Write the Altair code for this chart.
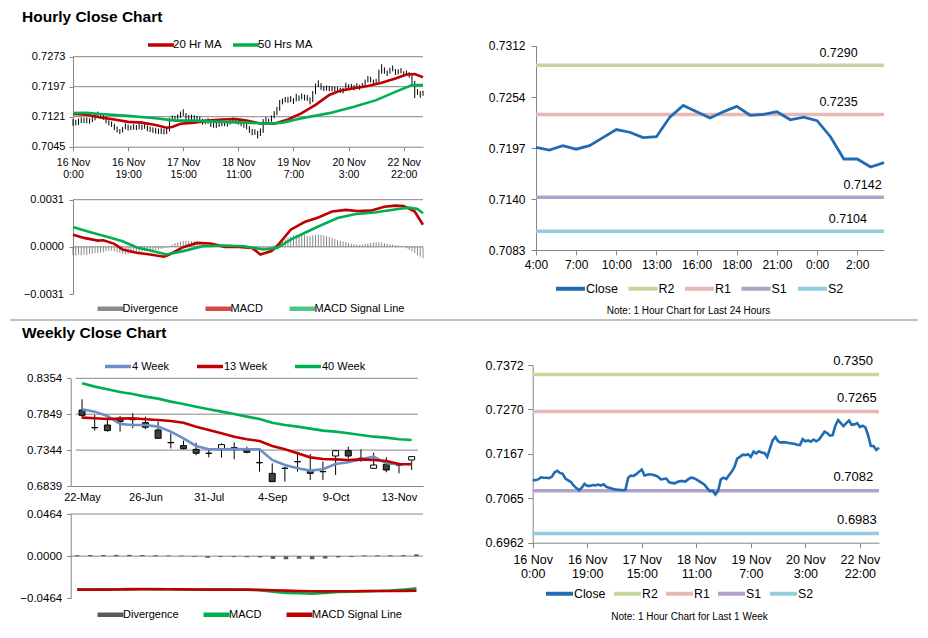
import json
import altair as alt
import pandas as pd

FONT = "Liberation Sans"
W, H = 912, 622
AXIS_GRAY = "#868686"
BLACK = "#000000"
RED = "#C00000"
GREEN = "#00B050"
BLUE_MA = "#6A8FC8"
CLOSE_C = "#1F6CB4"
R2C, R1C, S1C, S2C = "#C3D69B", "#E6B9B8", "#B3A2C7", "#93CDDD"
DIV_C = "#595959"

# ---------------- hourly data (128 hourly bars) ----------------
hourly_close = [
    0.7107, 0.7106, 0.7108, 0.7113, 0.7112, 0.7112, 0.7111, 0.7114, 0.7124, 0.7128,
    0.7123, 0.7121, 0.7110, 0.7106, 0.7102, 0.7094, 0.7088, 0.7083, 0.7089, 0.7098,
    0.7093, 0.7093, 0.7095, 0.7094, 0.7096, 0.7094, 0.7097, 0.7091, 0.7089, 0.7087,
    0.7085, 0.7084, 0.7084, 0.7083, 0.7084, 0.7112, 0.7117, 0.7116, 0.7120, 0.7126,
    0.7131, 0.7117, 0.7119, 0.7120, 0.7119, 0.7117, 0.7114, 0.7108, 0.7109, 0.7110,
    0.7102, 0.7100, 0.7099, 0.7102, 0.7104, 0.7104, 0.7103, 0.7108, 0.7112, 0.7111,
    0.7108, 0.7104, 0.7100, 0.7096, 0.7088, 0.7081, 0.7082, 0.7073, 0.7082, 0.7108,
    0.7112, 0.7109, 0.7118, 0.7126, 0.7137, 0.7156, 0.7160, 0.7165, 0.7164, 0.7166,
    0.7160, 0.7172, 0.7168, 0.7173, 0.7170, 0.7169, 0.7160, 0.7179, 0.7198, 0.7206,
    0.7196, 0.7193, 0.7194, 0.7193, 0.7192, 0.7191, 0.7190, 0.7188, 0.7187, 0.7201,
    0.7196, 0.7198, 0.7195, 0.7200, 0.7196, 0.7200, 0.7209, 0.7218, 0.7215, 0.7209,
    0.7210, 0.7232, 0.7245, 0.7238, 0.7231, 0.7238, 0.7244, 0.7234, 0.7235, 0.7238,
    0.7229, 0.7232, 0.7228, 0.7210, 0.7185, 0.7185, 0.7176, 0.7181]
hourly_high = [
    0.7115, 0.7113, 0.7116, 0.7119, 0.7118, 0.7119, 0.7117, 0.7121, 0.7130, 0.7134,
    0.7130, 0.7127, 0.7122, 0.7112, 0.7109, 0.7103, 0.7096, 0.7090, 0.7095, 0.7104,
    0.7101, 0.7099, 0.7102, 0.7100, 0.7103, 0.7101, 0.7103, 0.7099, 0.7096, 0.7094,
    0.7093, 0.7091, 0.7092, 0.7090, 0.7093, 0.7118, 0.7124, 0.7123, 0.7127, 0.7134,
    0.7140, 0.7130, 0.7125, 0.7126, 0.7125, 0.7123, 0.7121, 0.7116, 0.7115, 0.7117,
    0.7110, 0.7107, 0.7106, 0.7108, 0.7111, 0.7110, 0.7110, 0.7114, 0.7119, 0.7117,
    0.7115, 0.7111, 0.7107, 0.7103, 0.7097, 0.7090, 0.7089, 0.7085, 0.7091, 0.7115,
    0.7120, 0.7116, 0.7124, 0.7135, 0.7146, 0.7163, 0.7167, 0.7171, 0.7171, 0.7173,
    0.7168, 0.7179, 0.7175, 0.7180, 0.7177, 0.7176, 0.7170, 0.7186, 0.7205, 0.7213,
    0.7206, 0.7199, 0.7200, 0.7199, 0.7198, 0.7197, 0.7196, 0.7194, 0.7194, 0.7207,
    0.7203, 0.7204, 0.7201, 0.7206, 0.7202, 0.7206, 0.7215, 0.7224, 0.7222, 0.7215,
    0.7217, 0.7240, 0.7254, 0.7246, 0.7238, 0.7245, 0.7251, 0.7242, 0.7241, 0.7244,
    0.7236, 0.7238, 0.7234, 0.7230, 0.7212, 0.7191, 0.7186, 0.7187]
hourly_low = [
    0.7098, 0.7099, 0.7100, 0.7105, 0.7105, 0.7104, 0.7103, 0.7107, 0.7112, 0.7120,
    0.7116, 0.7113, 0.7104, 0.7099, 0.7095, 0.7087, 0.7081, 0.7077, 0.7081, 0.7089,
    0.7086, 0.7087, 0.7088, 0.7087, 0.7089, 0.7087, 0.7090, 0.7084, 0.7082, 0.7080,
    0.7078, 0.7077, 0.7077, 0.7076, 0.7077, 0.7084, 0.7110, 0.7109, 0.7113, 0.7118,
    0.7123, 0.7111, 0.7112, 0.7113, 0.7112, 0.7110, 0.7107, 0.7101, 0.7102, 0.7103,
    0.7095, 0.7093, 0.7092, 0.7095, 0.7097, 0.7097, 0.7096, 0.7101, 0.7105, 0.7104,
    0.7101, 0.7097, 0.7093, 0.7089, 0.7080, 0.7074, 0.7075, 0.7066, 0.7072, 0.7080,
    0.7104, 0.7102, 0.7108, 0.7117, 0.7125, 0.7136, 0.7152, 0.7157, 0.7156, 0.7158,
    0.7153, 0.7160, 0.7161, 0.7165, 0.7162, 0.7161, 0.7152, 0.7158, 0.7178, 0.7196,
    0.7189, 0.7186, 0.7187, 0.7186, 0.7185, 0.7184, 0.7183, 0.7181, 0.7180, 0.7186,
    0.7189, 0.7191, 0.7188, 0.7193, 0.7189, 0.7193, 0.7199, 0.7208, 0.7208, 0.7202,
    0.7203, 0.7209, 0.7230, 0.7230, 0.7224, 0.7230, 0.7236, 0.7227, 0.7228, 0.7231,
    0.7222, 0.7224, 0.7220, 0.7203, 0.7168, 0.7176, 0.7169, 0.7174]

ma20_idx = [0, 5, 10, 15, 20, 25, 30, 34, 36, 39, 44, 49, 54, 59, 63, 68, 73, 78, 83,
            88, 93, 97, 102, 107, 112, 117, 121, 124, 127]
ma20 = [0.7128, 0.7126, 0.7119, 0.7114, 0.7108, 0.7106, 0.7100, 0.7093, 0.7095, 0.7103,
        0.7106, 0.7111, 0.7114, 0.7115, 0.7111, 0.7104, 0.7103, 0.7114, 0.7130, 0.7151,
        0.7176, 0.7187, 0.7193, 0.7199, 0.7207, 0.7218, 0.7228, 0.7229, 0.7221]
ma50_idx = [0, 5, 10, 20, 30, 37, 44, 54, 63, 71, 76, 83, 93, 102, 110, 117, 123, 127]
ma50 = [0.7130, 0.7131, 0.7128, 0.7123, 0.7117, 0.7111, 0.7111, 0.7108, 0.7106, 0.7103,
        0.7106, 0.7117, 0.7130, 0.7146, 0.7163, 0.7184, 0.7201, 0.7201]

macd_h_idx = [0, 4, 9, 11, 15, 18, 23, 28, 33, 35, 40, 45, 50, 55, 60, 65, 68, 72, 74, 79,
              84, 89, 94, 99, 103, 108, 113, 117, 120, 124, 127]
macd_h = [0.0008, 0.00059, 0.00041, 0.00043, 0.0002, -0.00017, -0.00039, -0.0005, -0.00065,
          -0.0005, -0.00002, 0.00026, 0.00022, 0.0, 0.0, -0.00007, -0.0005, -0.00028, 0.00004,
          0.00113, 0.00163, 0.00193, 0.00232, 0.00243, 0.00236, 0.00238, 0.00264, 0.00271,
          0.00269, 0.00232, 0.00145]
signal_h_idx = [0, 6, 13, 18, 23, 28, 34, 40, 47, 55, 62, 69, 74, 79, 84, 89, 96, 103, 110,
                118, 122, 125, 127]
signal_h = [0.0013, 0.00098, 0.00063, 0.00037, -0.00002, -0.00024, -0.0005, -0.00028, 0.00004,
            0.00009, 0.00004, -0.00017, -0.00007, 0.00048, 0.00091, 0.00134, 0.00189, 0.00217,
            0.00228, 0.00249, 0.00258, 0.00249, 0.00221]
divergence_h = [
    -0.00055, -0.00058, -0.00052, -0.00056, -0.0005, -0.00054, -0.00048, -0.00045, -0.0004, -0.00042,
    -0.00038, -0.00036, -0.0003, -0.00028, -0.00025, -0.0003, -0.00035, -0.0004, -0.00045, -0.0005,
    -0.00048, -0.00044, -0.0004, -0.00038, -0.00035, -0.0003, -0.00028, -0.00025, -0.0002, -0.00022,
    -0.0002, -0.00018, -0.00015, -0.0001, -0.00005, 0.00005, 0.00015, 0.00025, 0.0003, 0.00035,
    0.00038, 0.0004, 0.0004, 0.00038, 0.00036, 0.00035, 0.0003, 0.00028, 0.00025, 0.0002,
    0.00015, 0.0001, 0.00005, 0.00002, 0.0, -0.00002, -0.00003, -0.00002, 0.0, -0.00002,
    -0.00005, -0.00008, -0.0001, -0.00012, -0.00015, -0.00018, -0.0002, -0.00022, -0.0002, -0.00015,
    -0.0001, -0.00005, 0.0, 0.0001, 0.0002, 0.0003, 0.0004, 0.0005, 0.0006, 0.00068,
    0.00075, 0.0008, 0.00082, 0.0008, 0.00078, 0.00072, 0.0007, 0.00075, 0.0008, 0.00082,
    0.0008, 0.00075, 0.0007, 0.00065, 0.0006, 0.00052, 0.00045, 0.0004, 0.00035, 0.0003,
    0.00025, 0.0002, 0.00018, 0.00015, 0.00012, 0.00015, 0.0002, 0.00022, 0.00025, 0.00028,
    0.0003, 0.0003, 0.00028, 0.00025, 0.0002, 0.00018, 0.00015, 0.0001, 0.00008, 0.00005,
    0.0, -0.0001, -0.0002, -0.0003, -0.0004, -0.00055, -0.00065, -0.00075]

hourly_tick_idx = [0, 20, 40, 60, 80, 100, 120]
hourly_tick_labels = ["16 Nov|0:00", "16 Nov|19:00", "17 Nov|15:00", "18 Nov|11:00",
                      "19 Nov|7:00", "20 Nov|3:00", "22 Nov|22:00"]
day_tick_idx = [0, 3, 6, 9, 12, 15, 18, 21, 24]
day_tick_labels = ["4:00", "7:00", "10:00", "13:00", "16:00", "18:00", "21:00", "0:00", "2:00"]

series_names = ["Close", "R2", "R1", "S1", "S2"]
level_names = ["R2", "R1", "S1", "S2"]
day_levels = [0.7290, 0.7235, 0.7142, 0.7104]
day_label_idx = [22.6, 22.6, 24.4, 23.3]
week_levels = [0.7350, 0.7265, 0.7082, 0.6983]
week_label_idx = [117.5, 118.9, 117.6, 118.9]

# ---------------- weekly data (27 weeks, 22-May .. 20-Nov) ----------------
week_tick_idx = [0, 5, 10, 15, 20, 25]
week_tick_labels = ["22-May", "26-Jun", "31-Jul", "4-Sep", "9-Oct", "13-Nov"]
w_open = [0.7908, 0.7662, 0.7697, 0.7791, 0.7786, 0.7730, 0.7627, 0.7451, 0.7407, 0.7355,
          0.7300, 0.7360, 0.7379, 0.7346, 0.7168, 0.7017, 0.7089, 0.7182, 0.7041, 0.7042,
          0.7261, 0.7336, 0.7229, 0.7088, 0.7144, 0.7135, 0.7205]
w_close = [0.7833, 0.7658, 0.7618, 0.7744, 0.7772, 0.7665, 0.7510, 0.7447, 0.7364, 0.7299,
           0.7298, 0.7421, 0.7377, 0.7313, 0.7166, 0.6900, 0.7087, 0.7180, 0.7017, 0.7040,
           0.7336, 0.7261, 0.7227, 0.7134, 0.7064, 0.7133, 0.7252]
w_high = [0.8059, 0.7838, 0.7838, 0.7824, 0.7862, 0.7815, 0.7744, 0.7580, 0.7477, 0.7449,
          0.7369, 0.7440, 0.7453, 0.7392, 0.7369, 0.7158, 0.7111, 0.7322, 0.7289, 0.7181,
          0.7346, 0.7392, 0.7355, 0.7308, 0.7242, 0.7167, 0.7261]
w_low = [0.7791, 0.7618, 0.7604, 0.7604, 0.7651, 0.7636, 0.7505, 0.7369, 0.7355, 0.7271,
         0.7242, 0.7238, 0.7214, 0.7299, 0.7041, 0.6900, 0.6900, 0.7041, 0.6924, 0.6924,
         0.6994, 0.7228, 0.7181, 0.7088, 0.7032, 0.7017, 0.7064]
ma4w = [0.7918, 0.7885, 0.7824, 0.7711, 0.7697, 0.7697, 0.7674, 0.7604, 0.7510, 0.7402,
        0.7355, 0.7355, 0.7360, 0.7355, 0.7355, 0.7205, 0.7135, 0.7088, 0.7055, 0.7074,
        0.7149, 0.7172, 0.7214, 0.7252, 0.7158, 0.7144, 0.7149]
ma13w = [0.7801, 0.7791, 0.7782, 0.7787, 0.7791, 0.7777, 0.7768, 0.7754, 0.7730, 0.7674,
         0.7627, 0.7580, 0.7533, 0.7496, 0.7472, 0.7402, 0.7355, 0.7299, 0.7242, 0.7219,
         0.7214, 0.7205, 0.7214, 0.7205, 0.7191, 0.7149, 0.7144]
ma40w = [0.8284, 0.8237, 0.8199, 0.8162, 0.8134, 0.8096, 0.8068, 0.8026, 0.7993, 0.7955,
         0.7918, 0.7885, 0.7852, 0.7815, 0.7782, 0.7730, 0.7697, 0.7674, 0.7646, 0.7618,
         0.7604, 0.7580, 0.7557, 0.7533, 0.7519, 0.7496, 0.7486]
macd_w = [-0.0369, -0.0368, -0.0366, -0.0364, -0.0362, -0.0362, -0.0363, -0.0365, -0.0366,
          -0.0368, -0.0369, -0.0369, -0.0369, -0.0370, -0.0376, -0.0391, -0.0405, -0.0409,
          -0.0413, -0.0406, -0.0395, -0.0391, -0.0386, -0.0384, -0.0380, -0.0369, -0.0354]
signal_w = [-0.0369, -0.0369, -0.0368, -0.0367, -0.0366, -0.0365, -0.0365, -0.0365, -0.0366,
            -0.0367, -0.0368, -0.0368, -0.0369, -0.0369, -0.0371, -0.0376, -0.0380, -0.0384,
            -0.0387, -0.0388, -0.0387, -0.0386, -0.0385, -0.0384, -0.0384, -0.0382, -0.0380]
divergence_w = [0.0010, 0.0012, 0.0013, 0.0014, 0.0014, 0.0012, 0.0010, 0.0008, 0.0006, -0.0008,
                -0.0018, -0.0010, -0.0010, -0.0012, -0.0014, -0.0030, -0.0034, -0.0028, -0.0034,
                -0.0026, -0.0014, -0.0010, 0.0008, 0.0009, 0.0010, 0.0011, 0.0020]


# ---------------- helpers ----------------
def lbl_expr(labels, step):
    return "split(" + json.dumps(labels) + "[round(datum.value / " + str(step) + ")], '|')"


def yaxis(offset, values, size, tick=4, pad=4):
    return alt.Axis(orient="left", offset=offset, values=values, format=".4f", title=None,
                    grid=False, domainColor=AXIS_GRAY, tickColor=AXIS_GRAY, tickSize=tick,
                    labelPadding=pad, labelFont=FONT, labelFontSize=size, labelColor=BLACK)


def xaxis(offset, values, labels, step, size, tick=4, pad=4, line_h=12, **extra):
    opts = dict(orient="bottom", offset=offset, values=values, labelExpr=lbl_expr(labels, step),
                grid=False, domainColor=AXIS_GRAY, tickColor=AXIS_GRAY, labelPadding=pad,
                labelFont=FONT, labelFontSize=size, labelColor=BLACK, labelFlush=False,
                labelOverlap=False, labelLineHeight=line_h)
    if tick > 0:
        opts["tickSize"] = tick
    else:
        opts["ticks"] = False
    if "title" not in extra:
        opts["title"] = None
    opts.update(extra)
    return alt.Axis(**opts)


def legend(x, y, size, font, pad, offset=2, stroke_w=3.5):
    # a negative label offset is passed as an expression (the schema only takes >= 0 numbers)
    off = offset if offset >= 0 else {"expr": str(offset)}
    return alt.Legend(orient="none", legendX=x, legendY=y, direction="horizontal", title=None,
                      symbolType="stroke", symbolSize=size * size, symbolStrokeWidth=stroke_w,
                      labelFont=FONT, labelFontSize=font, labelColor=BLACK,
                      columnPadding=pad, labelOffset=off, padding=0)


def lin(domain, rng):
    return alt.Scale(domain=domain, range=rng, nice=False, zero=False)


def long_df(parts):
    return pd.concat([pd.DataFrame({"i": idx, "v": vals, "s": name}) for idx, vals, name in parts],
                     ignore_index=True)


n_h = len(hourly_close)
n_w = len(w_close)
hourly_i = list(range(n_h))
week_i = list(range(n_w))

# ================= top-left: hourly price =================
sx_tl = lin([0, n_h - 1], [65, 415])
sy_tl = lin([0.7045, 0.7273], [138.7, 48.7])
ax_tl_x = xaxis(138.7 - H, hourly_tick_idx, hourly_tick_labels, 20, 10.5, 4, 6.8, 12)
ax_tl_y = yaxis(-65, [0.7045, 0.7121, 0.7197, 0.7273], 11, 4, 4)
tl_grid = alt.Chart(pd.DataFrame({"v": [0.7121, 0.7197, 0.7273], "a": 0, "b": n_h - 1})).mark_rule(
    color=AXIS_GRAY, strokeWidth=1).encode(
    x=alt.X("a:Q", scale=sx_tl, axis=ax_tl_x), x2="b",
    y=alt.Y("v:Q", scale=sy_tl, axis=ax_tl_y))
hourly_df = pd.DataFrame({"i": hourly_i, "c": hourly_close, "h": hourly_high, "l": hourly_low})
tl_bars = alt.Chart(hourly_df).mark_rule(color=BLACK, strokeWidth=1).encode(
    x=alt.X("i:Q", scale=sx_tl, axis=ax_tl_x), y=alt.Y("l:Q", scale=sy_tl, axis=ax_tl_y), y2="h")
tl_ma = alt.Chart(long_df([(ma20_idx, ma20, "20 Hr MA"), (ma50_idx, ma50, "50 Hrs MA")])).mark_line(
    strokeWidth=2.6).encode(
    x=alt.X("i:Q", scale=sx_tl, axis=ax_tl_x), y=alt.Y("v:Q", scale=sy_tl, axis=ax_tl_y),
    color=alt.Color("s:N", scale=alt.Scale(domain=["20 Hr MA", "50 Hrs MA"], range=[RED, GREEN]),
                    legend=legend(138, 22, 26, 11.5, 4, -3, 3.5)))
tl = alt.layer(tl_grid, tl_bars, tl_ma)

# ================= top-left: hourly MACD =================
MACD_DOM = ["Divergence", "MACD", "MACD Signal Line"]
sy_tm = lin([-0.0031, 0.0031], [286, 191.7])
ax_tm_y = yaxis(-65, [-0.0031, 0.0, 0.0031], 11, 4, 5.5)
tm_color = alt.Color("s:N", scale=alt.Scale(domain=MACD_DOM, range=[DIV_C, RED, GREEN]),
                     legend=legend(87, 285, 26, 11, 17, -3.5, 4.5))
tm_grid = alt.Chart(pd.DataFrame({"v": [0.0031, 0.0], "a": 0, "b": n_h - 1})).mark_rule(
    color=AXIS_GRAY, strokeWidth=1).encode(
    x=alt.X("a:Q", scale=sx_tl, axis=None), x2="b",
    y=alt.Y("v:Q", scale=sy_tm, axis=ax_tm_y))
tm_div = alt.Chart(pd.DataFrame({"i": hourly_i, "v": divergence_h, "z": 0.0, "s": "Divergence"})).mark_rule(
    strokeWidth=1, opacity=0.7).encode(
    x=alt.X("i:Q", scale=sx_tl, axis=None), y=alt.Y("v:Q", scale=sy_tm, axis=ax_tm_y), y2="z",
    color=tm_color)
tm_lines = alt.Chart(long_df([(macd_h_idx, macd_h, "MACD"), (signal_h_idx, signal_h, "MACD Signal Line")])).mark_line(
    strokeWidth=2.6).encode(
    x=alt.X("i:Q", scale=sx_tl, axis=None), y=alt.Y("v:Q", scale=sy_tm, axis=ax_tm_y),
    color=tm_color)
tm = alt.layer(tm_grid, tm_div, tm_lines)

# ================= top-right: last 24 hours =================
day_close = hourly_close[n_h - 27:]
sx_tr = lin([0, len(day_close) - 1], [528, 876])
sy_tr = lin([0.7083, 0.7312], [242, 37.7])
ax_tr_x = xaxis(242 - H, day_tick_idx, day_tick_labels, 3, 12, 5, 4, 14,
                title="Note: 1 Hour Chart for Last 24 Hours", titleX=680, titleY=60,
                titleFont=FONT, titleFontSize=10, titleFontWeight="normal",
                titleColor=BLACK, titleAlign="center", titleBaseline="middle")
ax_tr_y = yaxis(-528, [0.7083, 0.7140, 0.7197, 0.7254, 0.7312], 12, 5, 6)
tr_color = alt.Color("s:N", scale=alt.Scale(domain=series_names, range=[CLOSE_C, R2C, R1C, S1C, S2C]),
                     legend=legend(546, 264, 29, 12.5, 2.5, -1, 4))
tr_lvl_df = pd.DataFrame({"v": day_levels, "s": level_names, "a": 0, "b": len(day_close) - 1,
                          "lx": day_label_idx, "t": [f"{v:.4f}" for v in day_levels]})
tr_lvl = alt.Chart(tr_lvl_df).mark_rule(strokeWidth=3.5).encode(
    x=alt.X("a:Q", scale=sx_tr, axis=ax_tr_x), x2="b",
    y=alt.Y("v:Q", scale=sy_tr, axis=ax_tr_y), color=tr_color)
tr_line = alt.Chart(pd.DataFrame({"i": list(range(len(day_close))), "v": day_close, "s": "Close"})).mark_line(
    strokeWidth=2.8).encode(
    x=alt.X("i:Q", scale=sx_tr, axis=ax_tr_x), y=alt.Y("v:Q", scale=sy_tr, axis=ax_tr_y), color=tr_color)
tr_text = alt.Chart(tr_lvl_df).mark_text(font=FONT, fontSize=12.5, color=BLACK, dy=-12,
                                         baseline="middle").encode(
    x=alt.X("lx:Q", scale=sx_tr, axis=ax_tr_x), y=alt.Y("v:Q", scale=sy_tr, axis=ax_tr_y), text="t:N")
tr = alt.layer(tr_lvl, tr_line, tr_text)

# ================= bottom-left: weekly price =================
sx_w = lin([-0.5, n_w - 0.5], [62.7, 415])
sy_w = lin([0.6839, 0.8354], [478, 370.3])
ax_w_x = xaxis(478 - H, week_tick_idx, week_tick_labels, 5, 11, 0, 5.5, 12)
ax_w_y = yaxis(-62.7, [0.6839, 0.7344, 0.7849, 0.8354], 11.5, 4, 5)
w_grid = alt.Chart(pd.DataFrame({"v": [0.7344, 0.7849, 0.8354], "a": -0.5, "b": n_w - 0.5})).mark_rule(
    color=AXIS_GRAY, strokeWidth=1).encode(
    x=alt.X("a:Q", scale=sx_w, axis=ax_w_x), x2="b",
    y=alt.Y("v:Q", scale=sy_w, axis=ax_w_y))
week_df = pd.DataFrame({"i": week_i, "o": w_open, "h": w_high, "l": w_low, "c": w_close})
w_wick = alt.Chart(week_df).mark_rule(color=BLACK, strokeWidth=1).encode(
    x=alt.X("i:Q", scale=sx_w, axis=ax_w_x), y=alt.Y("l:Q", scale=sy_w, axis=ax_w_y), y2="h")
w_body = alt.Chart(week_df).mark_bar(size=6, stroke=BLACK, strokeWidth=1).encode(
    x=alt.X("i:Q", scale=sx_w, axis=ax_w_x), y=alt.Y("o:Q", scale=sy_w, axis=ax_w_y), y2="c",
    fill=alt.condition("datum.c >= datum.o", alt.value("#FFFFFF"), alt.value("#404040")))
w_ma = alt.Chart(long_df([(week_i, ma4w, "4 Week"), (week_i, ma13w, "13 Week"), (week_i, ma40w, "40 Week")])).mark_line(
    strokeWidth=2.6).encode(
    x=alt.X("i:Q", scale=sx_w, axis=ax_w_x), y=alt.Y("v:Q", scale=sy_w, axis=ax_w_y),
    color=alt.Color("s:N", scale=alt.Scale(domain=["4 Week", "13 Week", "40 Week"], range=[BLUE_MA, RED, GREEN]),
                    legend=legend(95, 343.5, 26, 11, 20, -1, 3.5)))
wk = alt.layer(w_grid, w_wick, w_body, w_ma)

# ================= bottom-left: weekly MACD =================
sy_wm = lin([-0.0464, 0.0464], [590.3, 506])
ax_wm_y = yaxis(-62.7, [-0.0464, 0.0, 0.0464], 11.5, 4, 5)
wm_color = alt.Color("s:N", scale=alt.Scale(domain=MACD_DOM, range=[DIV_C, GREEN, RED]),
                     legend=legend(87, 591, 26, 11, 15, -3, 4.5))
wm_grid = alt.Chart(pd.DataFrame({"v": [0.0464, 0.0], "a": -0.5, "b": n_w - 0.5})).mark_rule(
    color=AXIS_GRAY, strokeWidth=1).encode(
    x=alt.X("a:Q", scale=sx_w, axis=None), x2="b",
    y=alt.Y("v:Q", scale=sy_wm, axis=ax_wm_y))
wm_div = alt.Chart(pd.DataFrame({"i": week_i, "v": divergence_w, "z": 0.0, "s": "Divergence"})).mark_rule(
    strokeWidth=4.5).encode(
    x=alt.X("i:Q", scale=sx_w, axis=None), y=alt.Y("v:Q", scale=sy_wm, axis=ax_wm_y), y2="z",
    color=wm_color)
wm_lines = alt.Chart(long_df([(week_i, macd_w, "MACD"), (week_i, signal_w, "MACD Signal Line")])).mark_line(
    strokeWidth=2.6).encode(
    x=alt.X("i:Q", scale=sx_w, axis=None), y=alt.Y("v:Q", scale=sy_wm, axis=ax_wm_y),
    color=wm_color)
wm = alt.layer(wm_grid, wm_div, wm_lines)

# ================= bottom-right: last week hourly close =================
sx_br = lin([0, n_h - 1], [524.7, 871])
sy_br = lin([0.6962, 0.7372], [534.7, 357])
ax_br_x = xaxis(534.7 - H, hourly_tick_idx, hourly_tick_labels, 20, 12.5, 5, 6, 14,
                title="Note: 1 Hour Chart for Last 1 Week", titleX=681, titleY=73.3,
                titleFont=FONT, titleFontSize=10, titleFontWeight="normal",
                titleColor=BLACK, titleAlign="center", titleBaseline="middle")
ax_br_y = yaxis(-524.7, [0.6962, 0.7065, 0.7167, 0.7270, 0.7372], 12.5, 5, 4.4)
br_color = alt.Color("s:N", scale=alt.Scale(domain=series_names, range=[CLOSE_C, R2C, R1C, S1C, S2C]),
                     legend=legend(536, 570, 27, 12.3, 0, -1, 4))
br_lvl_df = pd.DataFrame({"v": week_levels, "s": level_names, "a": 0, "b": n_h - 1,
                          "lx": week_label_idx, "t": [f"{v:.4f}" for v in week_levels]})
br_lvl = alt.Chart(br_lvl_df).mark_rule(strokeWidth=3.5).encode(
    x=alt.X("a:Q", scale=sx_br, axis=ax_br_x), x2="b",
    y=alt.Y("v:Q", scale=sy_br, axis=ax_br_y), color=br_color)
br_line = alt.Chart(pd.DataFrame({"i": hourly_i, "v": hourly_close, "s": "Close"})).mark_line(
    strokeWidth=2.6).encode(
    x=alt.X("i:Q", scale=sx_br, axis=ax_br_x), y=alt.Y("v:Q", scale=sy_br, axis=ax_br_y), color=br_color)
br_text = alt.Chart(br_lvl_df).mark_text(font=FONT, fontSize=13, color=BLACK, dy=-13.5,
                                         baseline="middle").encode(
    x=alt.X("lx:Q", scale=sx_br, axis=ax_br_x), y=alt.Y("v:Q", scale=sy_br, axis=ax_br_y), text="t:N")
br = alt.layer(br_lvl, br_line, br_text)

# ================= decorations =================
one = pd.DataFrame({"k": [0]})
sep = alt.Chart(one).mark_rule(color=AXIS_GRAY, strokeWidth=1.2).encode(
    x=alt.value(2), x2=alt.value(910), y=alt.value(312))
title_h = alt.Chart(one).mark_text(text="Hourly Close Chart", font=FONT, fontSize=15.5, fontWeight="bold",
                                   color=BLACK, align="left", baseline="alphabetic").encode(
    x=alt.value(14), y=alt.value(14))
title_w = alt.Chart(one).mark_text(text="Weekly Close Chart", font=FONT, fontSize=15.5, fontWeight="bold",
                                   color=BLACK, align="left", baseline="alphabetic").encode(
    x=alt.value(14), y=alt.value(329.5))

chart = alt.layer(tl, tm, tr, wk, wm, br, sep, title_h, title_w).resolve_scale(
    x="independent", y="independent", color="independent"
).properties(
    width=W, height=H, padding=0, autosize=alt.AutoSizeParams(type="none")
).configure_view(strokeWidth=0)

chart.save("out.html", embed_options={"renderer": "svg", "actions": False})
